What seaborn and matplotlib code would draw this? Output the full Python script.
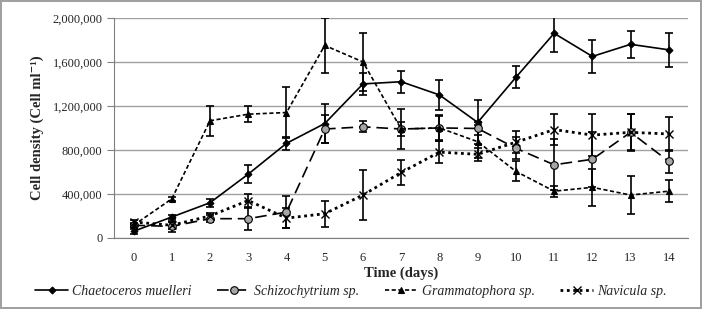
import pandas as pd
import numpy as np
import matplotlib.pyplot as plt
import seaborn as sns
from matplotlib.ticker import FuncFormatter, MultipleLocator

sns.set_theme(style="white")
plt.rcParams['font.family'] = ['Liberation Serif', 'DejaVu Serif']

# --- data ---
days = list(range(15))
species = ["Chaetoceros muelleri", "Schizochytrium sp.", "Grammatophora sp.", "Navicula sp."]

chaeto = [60000, 190000, 320000, 580000, 860000, 1040000, 1400000, 1420000,
          1300000, 1050000, 1460000, 1860000, 1650000, 1760000, 1710000]
chaeto_err = [20000, 20000, 35000, 80000, 60000, 180000, 100000, 100000,
              140000, 200000, 100000, 170000, 150000, 120000, 155000]

schizo = [115000, 105000, 175000, 175000, 235000, 990000, 1010000, 990000,
          1000000, 995000, 815000, 665000, 715000, 960000, 695000]
schizo_err = [20000, 50000, 30000, 100000, 145000, 130000, 50000, 60000,
              120000, 60000, 100000, 230000, 250000, 170000, 105000]

gramma = [115000, 355000, 1065000, 1125000, 1140000, 1750000, 1600000, 990000,
          1000000, 875000, 605000, 425000, 460000, 390000, 425000]
gramma_err = [15000, 15000, 135000, 70000, 230000, 250000, 260000, 180000,
              110000, 150000, 90000, 50000, 170000, 170000, 100000]

navicula = [145000, 115000, 200000, 340000, 180000, 220000, 390000, 595000,
            780000, 760000, 870000, 985000, 935000, 960000, 945000]
navicula_err = [20000, 30000, 30000, 60000, 90000, 120000, 230000, 115000,
                100000, 60000, 100000, 140000, 190000, 165000, 155000]

values = [chaeto, schizo, gramma, navicula]
errors = [chaeto_err, schizo_err, gramma_err, navicula_err]

df = pd.DataFrame({
    "day": days * 4,
    "species": np.repeat(species, len(days)),
    "density": np.concatenate(values),
    "err": np.concatenate(errors),
})

styles = {
    "Chaetoceros muelleri": dict(marker="D", dashes="", ms=3.5, mfc="black"),
    "Schizochytrium sp.": dict(marker="o", dashes=(7, 3.5), ms=5.5, mfc="#a6a6a6"),
    "Grammatophora sp.": dict(marker="^", dashes=(2.5, 1.5), ms=4.5, mfc="black"),
    "Navicula sp.": dict(marker="x", dashes=(1, 1.3), ms=6, mfc="black"),
}

fig = plt.figure(figsize=(7.02, 3.09), dpi=100, edgecolor="#a0a0a0", linewidth=1.5)
ax = fig.add_axes([0.163, 0.230, 0.817, 0.712])

for sp in species:
    sub = df[df["species"] == sp]
    st = styles[sp]
    lw = 2.0 if sp == "Navicula sp." else 1.2
    ax.errorbar(sub["day"], sub["density"], yerr=sub["err"], fmt="none",
                ecolor="black", elinewidth=1.2, capsize=3, capthick=1.2, zorder=2)
    sns.lineplot(data=sub, x="day", y="density", ax=ax, color="black",
                 linewidth=lw, marker=st["marker"], markersize=st["ms"],
                 markerfacecolor=st["mfc"], markeredgecolor="black",
                 markeredgewidth=0.8 if st["marker"] != "x" else 1.0,
                 label=sp, zorder=3)
    line = ax.get_lines()[-1]
    if st["dashes"]:
        line.set_dashes(st["dashes"])

ax.set_xlim(-0.5, 14.5)
ax.set_ylim(0, 2000000)
ax.set_xticks(days)
ax.set_xticklabels([str(d) for d in days])
ax.xaxis.set_minor_locator(MultipleLocator(1, offset=0.5))
ax.tick_params(axis="x", which="major", length=0, labelsize=9, pad=10)
ax.tick_params(axis="x", which="minor", length=5, width=0.8, color="#808080", direction="out")
ax.set_yticks(range(0, 2000001, 400000))
ax.yaxis.set_major_formatter(FuncFormatter(lambda v, p: f"{int(v):,}"))
ax.tick_params(axis="y", length=5, width=0.8, color="#808080", direction="out", labelsize=9, left=True)
ax.grid(axis="y", color="#a0a0a0", linewidth=1)
ax.set_axisbelow(True)

for s in ["top", "right"]:
    ax.spines[s].set_visible(False)
for s in ["left", "bottom"]:
    ax.spines[s].set_color("#808080")
    ax.spines[s].set_linewidth(0.8)

ax.set_xlabel("Time (days)", fontsize=10.5, fontweight="bold", labelpad=2)
ax.set_ylabel("Cell density (Cell ml\u207b\u00b9)", fontsize=10.5, fontweight="bold", labelpad=6)

handles, labels = ax.get_legend_handles_labels()
ax.legend_.remove() if ax.legend_ else None
fig.legend(handles, labels, loc="lower center", bbox_to_anchor=(0.5, -0.005), ncol=4,
           frameon=False, prop={"style": "italic", "size": 10}, handlelength=2.4,
           columnspacing=1.8, handletextpad=0.3)

fig.savefig("out.png", dpi=100, edgecolor=fig.get_edgecolor())
